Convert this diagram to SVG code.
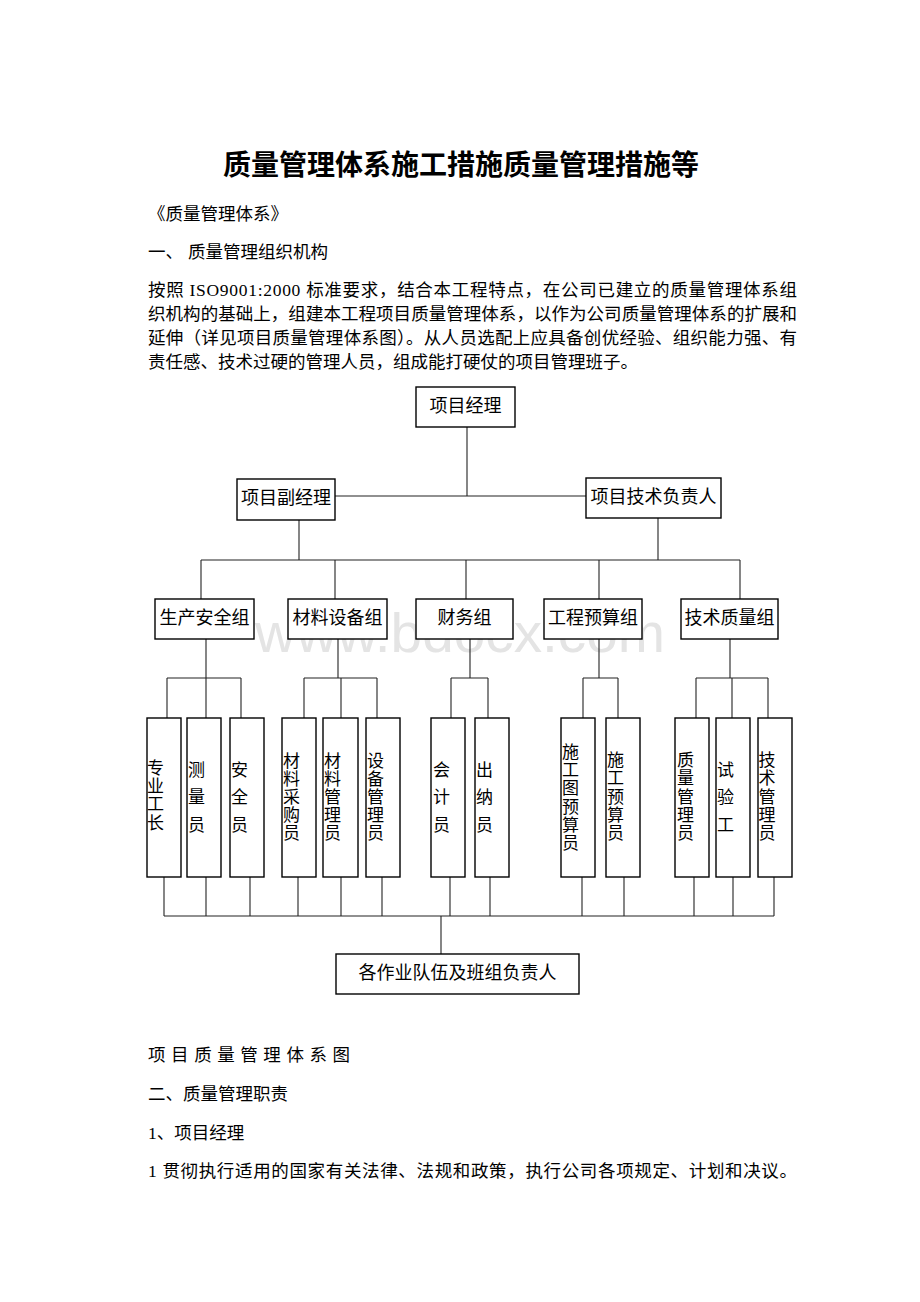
<svg xmlns="http://www.w3.org/2000/svg" width="920" height="1302" viewBox="0 0 920 1302">
<style>
.t{font-family:"Liberation Serif","Noto Sans CJK SC",serif;fill:#000;}
.body{font-size:17.5px;dominant-baseline:central;}
.title{font-size:28px;font-weight:bold;text-anchor:middle;dominant-baseline:central;}
.box{fill:#fff;stroke:#000;stroke-width:1.4;}
.lbl{font-size:18px;text-anchor:middle;dominant-baseline:central;}
.vl{font-size:17px;dominant-baseline:central;}
.con line{stroke:#222;stroke-width:1.1;}
.wm{font-family:"Liberation Sans",Arial,sans-serif;font-size:56px;fill:#e4e4e4;}
</style>
<rect width="920" height="1302" fill="#fff"/>
<text class="t title" x="461" y="165">质量管理体系施工措施质量管理措施等</text>
<text class="t body" x="148" y="214">《质量管理体系》</text>
<text class="t body" x="148" y="252">一、</text>
<text class="t body" x="188" y="252">质量管理组织机构</text>
<text class="t body" x="148" y="290" textLength="649" lengthAdjust="spacing">按照 ISO9001:2000 标准要求，结合本工程特点，在公司已建立的质量管理体系组</text>
<text class="t body" x="148" y="314" textLength="649" lengthAdjust="spacing">织机构的基础上，组建本工程项目质量管理体系，以作为公司质量管理体系的扩展和</text>
<text class="t body" x="148" y="338" textLength="649" lengthAdjust="spacing">延伸（详见项目质量管理体系图）。从人员选配上应具备创优经验、组织能力强、有</text>
<text class="t body" x="148" y="362">责任感、技术过硬的管理人员，组成能打硬仗的项目管理班子。</text>

<text class="wm" x="255" y="652" textLength="410" lengthAdjust="spacingAndGlyphs">www.bdocx.com</text>

<g class="con" id="connectors">
<line x1="467" y1="427" x2="467" y2="496"/>
<line x1="335" y1="496" x2="586" y2="496"/>
<line x1="299" y1="520" x2="299" y2="560"/>
<line x1="658" y1="518" x2="658" y2="560"/>
<line x1="201" y1="560" x2="740" y2="560"/>
<line x1="201" y1="560" x2="201" y2="599"/>
<line x1="335" y1="560" x2="335" y2="599"/>
<line x1="466" y1="560" x2="466" y2="599"/>
<line x1="599" y1="560" x2="599" y2="599"/>
<line x1="740" y1="560" x2="740" y2="599"/>
<line x1="206" y1="639" x2="206" y2="678"/>
<line x1="167" y1="678" x2="241" y2="678"/>
<line x1="167" y1="678" x2="167" y2="718"/>
<line x1="206" y1="678" x2="206" y2="718"/>
<line x1="241" y1="678" x2="241" y2="718"/>
<line x1="338" y1="639" x2="338" y2="678"/>
<line x1="304" y1="678" x2="377" y2="678"/>
<line x1="304" y1="678" x2="304" y2="718"/>
<line x1="341" y1="678" x2="341" y2="718"/>
<line x1="377" y1="678" x2="377" y2="718"/>
<line x1="470" y1="639" x2="470" y2="678"/>
<line x1="451" y1="678" x2="488" y2="678"/>
<line x1="451" y1="678" x2="451" y2="718"/>
<line x1="488" y1="678" x2="488" y2="718"/>
<line x1="599" y1="639" x2="599" y2="678"/>
<line x1="583" y1="678" x2="618" y2="678"/>
<line x1="583" y1="678" x2="583" y2="718"/>
<line x1="618" y1="678" x2="618" y2="718"/>
<line x1="730" y1="639" x2="730" y2="678"/>
<line x1="696" y1="678" x2="768" y2="678"/>
<line x1="696" y1="678" x2="696" y2="718"/>
<line x1="732" y1="678" x2="732" y2="718"/>
<line x1="768" y1="678" x2="768" y2="718"/>
<line x1="164" y1="877" x2="164" y2="916"/>
<line x1="206" y1="877" x2="206" y2="916"/>
<line x1="250" y1="877" x2="250" y2="916"/>
<line x1="298" y1="877" x2="298" y2="916"/>
<line x1="341" y1="877" x2="341" y2="916"/>
<line x1="382" y1="877" x2="382" y2="916"/>
<line x1="450" y1="877" x2="450" y2="916"/>
<line x1="490" y1="877" x2="490" y2="916"/>
<line x1="582" y1="877" x2="582" y2="916"/>
<line x1="624" y1="877" x2="624" y2="916"/>
<line x1="694" y1="877" x2="694" y2="916"/>
<line x1="733" y1="877" x2="733" y2="916"/>
<line x1="774" y1="877" x2="774" y2="916"/>
<line x1="164" y1="916" x2="774" y2="916"/>
<line x1="441" y1="916" x2="441" y2="954"/>
</g>

<g id="n-pm"><rect class="box" x="416" y="387" width="99" height="40"/><text class="t lbl" x="465.5" y="406">项目经理</text></g>
<g id="n-dpm"><rect class="box" x="237" y="479" width="98" height="41"/><text class="t lbl" x="286" y="498">项目副经理</text></g>
<g id="n-tech"><rect class="box" x="586" y="478" width="135" height="40"/><text class="t lbl" x="653.5" y="497">项目技术负责人</text></g>

<g id="n-g1"><rect class="box" x="155" y="599" width="99" height="40"/><text class="t lbl" x="204.5" y="618">生产安全组</text></g>
<g id="n-g2"><rect class="box" x="288" y="599" width="99" height="40"/><text class="t lbl" x="337.5" y="618">材料设备组</text></g>
<g id="n-g3"><rect class="box" x="416" y="599" width="97" height="40"/><text class="t lbl" x="464.5" y="618">财务组</text></g>
<g id="n-g4"><rect class="box" x="544" y="599" width="98" height="40"/><text class="t lbl" x="593" y="618">工程预算组</text></g>
<g id="n-g5"><rect class="box" x="681" y="599" width="97" height="40"/><text class="t lbl" x="729.5" y="618">技术质量组</text></g>

<g id="n-s1"><rect class="box" x="147" y="718" width="34" height="159"/><text class="t vl"><tspan x="147" y="768">专</tspan><tspan x="147" y="786">业</tspan><tspan x="147" y="804">工</tspan><tspan x="147" y="823">长</tspan></text></g>
<g id="n-s2"><rect class="box" x="187" y="718" width="34" height="159"/><text class="t vl"><tspan x="188" y="770">测</tspan><tspan x="188" y="797">量</tspan><tspan x="188" y="825">员</tspan></text></g>
<g id="n-s3"><rect class="box" x="230" y="718" width="34" height="159"/><text class="t vl"><tspan x="231" y="770">安</tspan><tspan x="231" y="797">全</tspan><tspan x="231" y="825">员</tspan></text></g>
<g id="n-s4"><rect class="box" x="282" y="718" width="34" height="159"/><text class="t vl"><tspan x="283" y="761">材</tspan><tspan x="283" y="779">料</tspan><tspan x="283" y="797">采</tspan><tspan x="283" y="815">购</tspan><tspan x="283" y="833">员</tspan></text></g>
<g id="n-s5"><rect class="box" x="323" y="718" width="35" height="159"/><text class="t vl"><tspan x="324" y="761">材</tspan><tspan x="324" y="779">料</tspan><tspan x="324" y="797">管</tspan><tspan x="324" y="815">理</tspan><tspan x="324" y="833">员</tspan></text></g>
<g id="n-s6"><rect class="box" x="366" y="718" width="34" height="159"/><text class="t vl"><tspan x="367" y="761">设</tspan><tspan x="367" y="779">备</tspan><tspan x="367" y="797">管</tspan><tspan x="367" y="815">理</tspan><tspan x="367" y="833">员</tspan></text></g>
<g id="n-s7"><rect class="box" x="431" y="718" width="34" height="159"/><text class="t vl"><tspan x="433" y="770">会</tspan><tspan x="433" y="797">计</tspan><tspan x="433" y="825">员</tspan></text></g>
<g id="n-s8"><rect class="box" x="475" y="718" width="34" height="159"/><text class="t vl"><tspan x="476" y="770">出</tspan><tspan x="476" y="797">纳</tspan><tspan x="476" y="825">员</tspan></text></g>
<g id="n-s9"><rect class="box" x="561" y="718" width="34" height="159"/><text class="t vl"><tspan x="562" y="752">施</tspan><tspan x="562" y="770">工</tspan><tspan x="562" y="788">图</tspan><tspan x="562" y="806.5">预</tspan><tspan x="562" y="825">算</tspan><tspan x="562" y="843">员</tspan></text></g>
<g id="n-s10"><rect class="box" x="606" y="718" width="34" height="159"/><text class="t vl"><tspan x="607" y="760">施</tspan><tspan x="607" y="778">工</tspan><tspan x="607" y="797">预</tspan><tspan x="607" y="815">算</tspan><tspan x="607" y="833">员</tspan></text></g>
<g id="n-s11"><rect class="box" x="675" y="718" width="34" height="159"/><text class="t vl"><tspan x="677" y="760">质</tspan><tspan x="677" y="778">量</tspan><tspan x="677" y="797">管</tspan><tspan x="677" y="815">理</tspan><tspan x="677" y="833">员</tspan></text></g>
<g id="n-s12"><rect class="box" x="716" y="718" width="34" height="159"/><text class="t vl"><tspan x="717" y="770">试</tspan><tspan x="717" y="797">验</tspan><tspan x="717" y="825">工</tspan></text></g>
<g id="n-s13"><rect class="box" x="758" y="718" width="34" height="159"/><text class="t vl"><tspan x="758.5" y="760">技</tspan><tspan x="758.5" y="778">术</tspan><tspan x="758.5" y="797">管</tspan><tspan x="758.5" y="815">理</tspan><tspan x="758.5" y="833">员</tspan></text></g>

<g id="n-team"><rect class="box" x="336" y="954" width="243" height="40"/><text class="t lbl" x="457.5" y="973">各作业队伍及班组负责人</text></g>

<text class="t body" x="148" y="1055" textLength="202" lengthAdjust="spacing">项 目 质 量 管 理 体 系 图</text>
<text class="t body" x="148" y="1094">二、质量管理职责</text>
<text class="t body" x="148" y="1133">1、项目经理</text>
<text class="t body" x="148" y="1171" textLength="649" lengthAdjust="spacing">1 贯彻执行适用的国家有关法律、法规和政策，执行公司各项规定、计划和决议。</text>
</svg>
